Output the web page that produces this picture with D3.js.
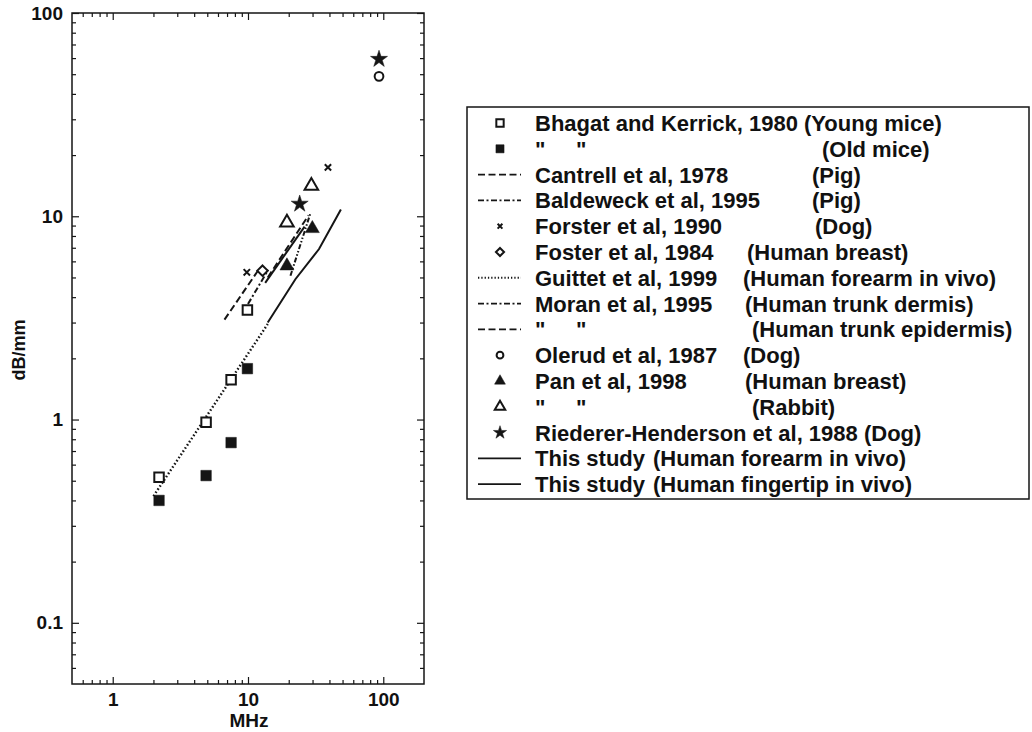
<!DOCTYPE html>
<html>
<head>
<meta charset="utf-8">
<script src="https://cdn.jsdelivr.net/npm/d3@7"></script>
<style>
  body { margin: 0; background: #fff; }
  svg text { font-family: "Liberation Sans", Arial, sans-serif; font-weight: bold; fill: #111; }
</style>
</head>
<body>
<svg id="chart" width="1032" height="732"></svg>
<script>
// [MHz, dB/mm]
var bhagatYoung = [[2.2, 0.52], [4.9, 0.97], [7.5, 1.57], [9.9, 3.46]]
var bhagatOld = [[2.2, 0.40], [4.9, 0.53], [7.5, 0.77], [9.9, 1.78]]
var forster = [[9.8, 5.3], [39, 17.4]]
var foster = [[12.8, 5.4]]
var olerud = [[93, 48.8]]
var panBreast = [[19.4, 5.7], [29.9, 8.7]]
var panRabbit = [[19.4, 9.3], [29.4, 14.1]]
var riederer = [[24.1, 11.5], [93, 59.3]]

var cantrell = [[6.7, 3.1], [12.3, 5.6]]
var baldeweck = [[10, 3.7], [14.1, 5.45]]
var guittet = [[2.0, 0.42], [14, 2.95]]
var moranDermis = [[20.6, 5.1], [29, 10.4]]
var moranEpidermis = [[14, 5.0], [28, 10.1]]
var forearm = [[13.4, 4.7], [26.2, 8.9]]
var fingertip = [[14, 3.0], [22.4, 4.9], [33.5, 6.9], [48.6, 10.8]]

var xMajor = [1, 10, 100]
var xMinor = [0.6, 0.7, 0.8, 0.9, 2, 3, 4, 5, 6, 7, 8, 9, 20, 30, 40, 50, 60, 70, 80, 90]
var yMajor = [0.1, 1, 10, 100]
var yMinor = [0.06, 0.07, 0.08, 0.09, 0.2, 0.3, 0.4, 0.5, 0.6, 0.7, 0.8, 0.9,
              2, 3, 4, 5, 6, 7, 8, 9, 20, 30, 40, 50, 60, 70, 80, 90]

var legendLabels = ['Bhagat and Kerrick, 1980 (Young mice)', '"     "', 'Cantrell et al, 1978',
  'Baldeweck et al, 1995', 'Forster et al, 1990', 'Foster et al, 1984', 'Guittet et al, 1999',
  'Moran et al, 1995', '"     "', 'Olerud et al, 1987', 'Pan et al, 1998', '"     "',
  'Riederer-Henderson et al, 1988 (Dog)', 'This study', 'This study']
var legendNotes = ['', '(Old mice)', '(Pig)', '(Pig)', '(Dog)', '(Human breast)',
  '(Human forearm in vivo)', '(Human trunk dermis)', '(Human trunk epidermis)', '(Dog)',
  '(Human breast)', '(Rabbit)', '', '(Human forearm in vivo)', '(Human fingertip in vivo)']

var svg = d3.select('#chart')

var x = d3.scaleLog().domain([0.5, 200]).range([72, 424])
var y = d3.scaleLog().domain([0.05, 100]).range([684, 13])

var ink = '#151515'

svg.append('rect')
    .attr('x', 72).attr('y', 13)
    .attr('width', 352).attr('height', 671)
    .attr('fill', 'none')
    .attr('stroke', ink)
    .attr('stroke-width', 1.5)

function drawAxis(axis, pos, vals, size, labels) {
    var g = svg.append('g')
        .attr('transform', pos)
        .call(axis.tickValues(vals)
            .tickSizeInner(-size)
            .tickSizeOuter(0)
            .tickPadding(labels ? 9 : 0)
            .tickFormat(labels ? function(d) { return d } : ''))
    g.select('.domain').remove()
    g.selectAll('line').attr('stroke', ink).attr('stroke-width', 1.2)
    g.selectAll('text').attr('font-size', 19).attr('font-family', null).attr('fill', ink)
}

drawAxis(d3.axisBottom(x), 'translate(0,684)', xMajor, 7, true)
drawAxis(d3.axisBottom(x), 'translate(0,684)', xMinor, 4, false)
drawAxis(d3.axisTop(x), 'translate(0,13)', xMajor, 7, false)
drawAxis(d3.axisTop(x), 'translate(0,13)', xMinor, 4, false)
drawAxis(d3.axisLeft(y), 'translate(72,0)', yMajor, 7, true)
drawAxis(d3.axisLeft(y), 'translate(72,0)', yMinor, 4, false)
drawAxis(d3.axisRight(y), 'translate(424,0)', yMajor, 7, false)
drawAxis(d3.axisRight(y), 'translate(424,0)', yMinor, 4, false)

svg.append('text')
    .attr('transform', 'translate(19,350) rotate(-90)')
    .attr('text-anchor', 'middle')
    .attr('dy', '0.35em')
    .attr('font-size', 18)
    .text('dB/mm')

svg.append('text')
    .attr('x', 249).attr('y', 727)
    .attr('text-anchor', 'middle')
    .attr('font-size', 19)
    .text('MHz')

// line series
var dashes = {
    dash: '7,3.5',
    dashdot: '6,2.5,2,2.5',
    dot: '1.6,2.2',
    dashdotdot: '5,2,1.5,2,1.5,2',
    solid: null
}

var lineSeries = [
    {data: cantrell, style: 'dash'},
    {data: baldeweck, style: 'dashdot'},
    {data: guittet, style: 'dot'},
    {data: moranDermis, style: 'dashdotdot'},
    {data: moranEpidermis, style: 'dash'},
    {data: forearm, style: 'solid'},
    {data: fingertip, style: 'solid'}
]

var line = d3.line()
    .x(function(d) { return x(d[0]) })
    .y(function(d) { return y(d[1]) })

svg.append('g').selectAll('path')
    .data(lineSeries)
    .enter().append('path')
      .attr('d', function(d) { return line(d.data) })
      .attr('fill', 'none')
      .attr('stroke', ink)
      .attr('stroke-width', function(d) { return d.style == 'dot' ? 2.4 : 2 })
      .attr('stroke-dasharray', function(d) { return dashes[d.style] })

// marker series
var times = d3.symbolTimes || d3.symbolCross
var diamond = d3.symbolDiamond2 || d3.symbolDiamond

var markers = {
    square: {type: d3.symbolSquare, size: 90, fill: false},
    squareFill: {type: d3.symbolSquare, size: 110, fill: true},
    times: {type: times, size: 28, fill: false},
    diamond: {type: diamond, size: 70, fill: false},
    circle: {type: d3.symbolCircle, size: 60, fill: false},
    triFill: {type: d3.symbolTriangle, size: 85, fill: true},
    tri: {type: d3.symbolTriangle, size: 80, fill: false},
    star: {type: d3.symbolStar, size: 90, fill: true}
}

var pointSeries = [
    {data: bhagatYoung, mark: 'square'},
    {data: bhagatOld, mark: 'squareFill'},
    {data: forster, mark: 'times'},
    {data: foster, mark: 'diamond'},
    {data: olerud, mark: 'circle'},
    {data: panBreast, mark: 'triFill'},
    {data: panRabbit, mark: 'tri'},
    {data: riederer, mark: 'star'}
]

function drawMark(sel, m, scale) {
    sel.attr('d', d3.symbol().type(m.type).size(m.size * scale))
        .attr('fill', m.fill ? ink : '#fff')
        .attr('stroke', ink)
        .attr('stroke-width', m.fill ? 0.5 : 2)
}

pointSeries.forEach(function(s) {
    svg.append('g').selectAll('path')
        .data(s.data)
        .enter().append('path')
          .attr('transform', function(d) { return 'translate(' + x(d[0]) + ',' + y(d[1]) + ')' })
          .call(drawMark, markers[s.mark], 1)
})

// legend
var legendKeys = ['square', 'squareFill', 'dash', 'dashdot', 'times', 'diamond', 'dot',
    'dashdot', 'dash', 'circle', 'triFill', 'tri', 'star', 'solid', 'solid']
var noteX = [0, 822, 812, 812, 815, 747, 743, 745, 752, 743, 745, 752, 0, 653, 653]

var rowY = function(i) { return 123 + i * 25.8 }

svg.append('rect')
    .attr('x', 467).attr('y', 107)
    .attr('width', 562).attr('height', 392)
    .attr('fill', 'none')
    .attr('stroke', ink)
    .attr('stroke-width', 1.5)

var rows = svg.append('g').selectAll('g')
    .data(legendLabels)
    .enter().append('g')
      .attr('transform', function(d, i) { return 'translate(0,' + rowY(i) + ')' })

rows.each(function(d, i) {
    var g = d3.select(this)
    var key = legendKeys[i]
    if (markers[key]) {
        g.append('path')
            .attr('transform', 'translate(500,0)')
            .call(drawMark, markers[key], 0.6)
    } else {
        g.append('line')
            .attr('x1', 478).attr('x2', 521)
            .attr('stroke', ink)
            .attr('stroke-width', key == 'dot' ? 2 : 1.8)
            .attr('stroke-dasharray', key == 'dot' ? '1.3,2' : dashes[key])
    }
    g.append('text')
        .attr('x', 535)
        .attr('dy', '0.36em')
        .attr('font-size', 22)
        .style('white-space', 'pre')
        .text(d)
    if (legendNotes[i]) {
        g.append('text')
            .attr('x', noteX[i])
            .attr('dy', '0.36em')
            .attr('font-size', 22)
            .text(legendNotes[i])
    }
})
</script>
</body>
</html>
